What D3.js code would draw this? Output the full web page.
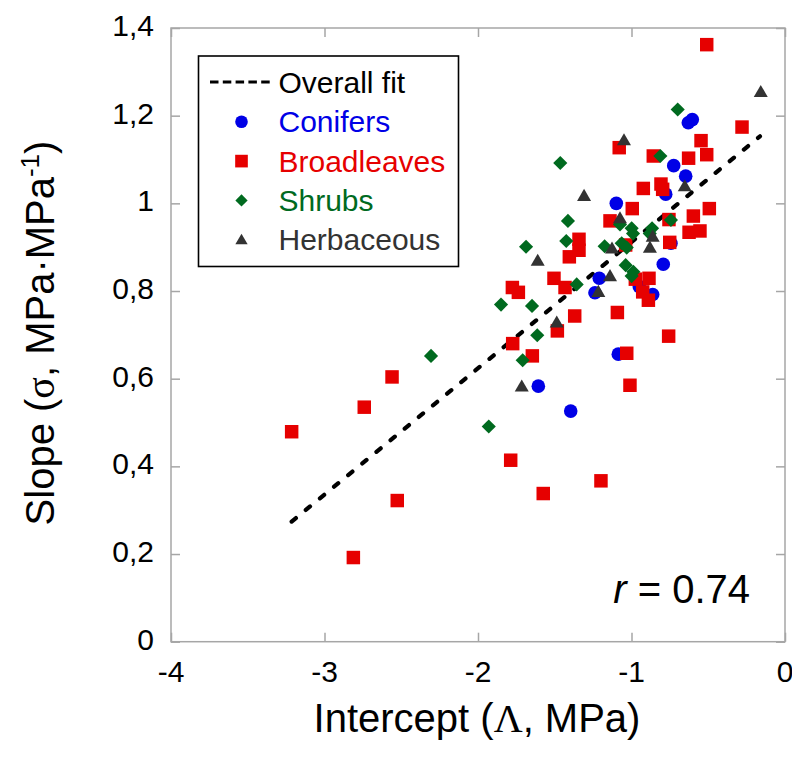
<!DOCTYPE html>
<html>
<head>
<meta charset="utf-8">
<script src="https://cdn.jsdelivr.net/npm/d3@7"></script>
<style>
  html, body { margin: 0; padding: 0; background: #fff; }
  svg { display: block; }
  text { font-family: "Liberation Sans", Arial, sans-serif; }
</style>
</head>
<body>
<svg id="chart" width="792" height="758"></svg>
<script>
// ---- data ----
const coniferX = [-0.63, -0.604, -0.725, -0.647, -0.777, -1.099, -0.743, -0.793, -1.21, -0.949, -0.862, -1.238, -1.086, -1.607, -1.396];
const coniferY = [1.184, 1.191, 1.086, 1.062, 1.021, 1.0, 0.909, 0.861, 0.829, 0.81, 0.792, 0.796, 0.656, 0.583, 0.526];

const broadX = [-0.51, -0.28, -1.08, -0.547, -0.51, -0.858, -0.628, -0.923, -0.808, -0.797, -0.995, -0.493, -1.14, -0.597, -0.756, -0.625, -0.554, -0.751, -1.342, -1.342, -1.405, -1.038, -0.975, -0.886, -1.505, -1.433, -0.927, -0.89, -1.776, -1.737, -1.37, -1.092, -1.483, -0.758, -1.774, -1.646, -1.031, -1.01, -3.214, -2.741, -2.56, -2.526, -2.812, -1.787, -1.199, -1.575];
const broadY = [1.362, 1.174, 1.127, 1.143, 1.111, 1.108, 1.103, 1.034, 1.044, 1.032, 0.988, 0.988, 0.96, 0.971, 0.963, 0.934, 0.937, 0.911, 0.918, 0.893, 0.878, 0.905, 0.827, 0.829, 0.829, 0.808, 0.798, 0.779, 0.808, 0.797, 0.743, 0.751, 0.709, 0.697, 0.68, 0.652, 0.658, 0.585, 0.479, 0.535, 0.604, 0.322, 0.192, 0.414, 0.367, 0.338];

const shrubX = [-0.699, -0.812, -1.464, -1.414, -0.743, -1.075, -0.999, -0.99, -0.866, -0.881, -1.425, -1.687, -1.175, -1.064, -1.031, -1.038, -0.988, -0.999, -1.357, -1.85, -1.648, -1.614, -1.709, -2.306, -1.93];
const shrubY = [1.214, 1.108, 1.092, 0.96, 0.962, 0.952, 0.943, 0.931, 0.943, 0.931, 0.914, 0.901, 0.902, 0.909, 0.899, 0.859, 0.844, 0.834, 0.815, 0.769, 0.766, 0.699, 0.642, 0.652, 0.491];

const herbX = [-0.158, -1.049, -0.653, -1.309, -1.075, -0.862, -0.88, -1.611, -1.127, -1.14, -1.216, -1.487, -1.715];
const herbY = [1.254, 1.144, 1.039, 1.017, 0.966, 0.924, 0.899, 0.869, 0.897, 0.834, 0.798, 0.728, 0.582];

const fitX = [-3.214, -0.163];
const fitY = [0.274, 1.153];

const xTicks = [-4, -3, -2, -1, 0];
const xTickLabels = ["-4", "-3", "-2", "-1", "0"];
const yTicks = [0, 0.2, 0.4, 0.6, 0.8, 1.0, 1.2, 1.4];
const yTickLabels = ["0", "0,2", "0,4", "0,6", "0,8", "1", "1,2", "1,4"];

const legendLabels = ["Overall fit", "Conifers", "Broadleaves", "Shrubs", "Herbaceous"];
const rText = "0.74";

// ---- layout ----
const L = 171, R = 785, T = 28, B = 641.7;
const svg = d3.select("#chart");
const x = d3.scaleLinear().domain([-4, 0]).range([L, R]);
const y = d3.scaleLinear().domain([0, 1.4]).range([B, T]);

const frameCol = "#a6a6a6";
const tickLen = 9;

// Frame
svg.append("rect").attr("x", L).attr("y", T).attr("width", R - L).attr("height", B - T)
  .attr("fill", "none").attr("stroke", frameCol).attr("stroke-width", 1.5);

// Axes with inward ticks (bottom/top/left/right)
const gx = svg.append("g").attr("transform", `translate(0,${B})`)
  .call(d3.axisBottom(x).tickValues(xTicks).tickSize(-tickLen).tickFormat(""));
const gxt = svg.append("g").attr("transform", `translate(0,${T})`)
  .call(d3.axisTop(x).tickValues(xTicks).tickSize(-tickLen).tickFormat(""));
const gy = svg.append("g").attr("transform", `translate(${L},0)`)
  .call(d3.axisLeft(y).tickValues(yTicks).tickSize(-tickLen).tickFormat(""));
const gyr = svg.append("g").attr("transform", `translate(${R},0)`)
  .call(d3.axisRight(y).tickValues(yTicks).tickSize(-tickLen).tickFormat(""));
[gx, gxt, gy, gyr].forEach(g => {
  g.select(".domain").remove();
  g.selectAll(".tick line").attr("stroke", frameCol).attr("stroke-width", 1.5);
});

// Tick labels
svg.append("g").selectAll("text").data(xTicks).join("text")
  .attr("x", d => x(d)).attr("y", 681.5)
  .attr("text-anchor", "middle").attr("font-size", 30).attr("fill", "#000")
  .text((d, i) => xTickLabels[i]);
svg.append("g").selectAll("text").data(yTicks).join("text")
  .attr("x", 154).attr("y", d => y(d) + 8)
  .attr("text-anchor", "end").attr("font-size", 30).attr("fill", "#000")
  .text((d, i) => yTickLabels[i]);

// Axis titles
const xt = svg.append("text").attr("x", (L + R) / 2 - 1).attr("y", 731.5)
  .attr("text-anchor", "middle").attr("font-size", 40).attr("fill", "#000");
xt.append("tspan").text("Intercept (");
xt.append("tspan").attr("font-family", "Liberation Serif, Times New Roman, serif").text("\u039B");
xt.append("tspan").text(", MPa)");

const yt = svg.append("text").attr("transform", "translate(54,333) rotate(-90)")
  .attr("text-anchor", "middle").attr("font-size", 40).attr("fill", "#000");
yt.append("tspan").text("Slope (");
yt.append("tspan").attr("font-family", "Liberation Serif, Times New Roman, serif").text("\u03C3");
yt.append("tspan").text(", MPa\u00B7MPa");
yt.append("tspan").attr("font-size", 26).attr("dy", -15).text("-1");
yt.append("tspan").attr("dy", 15).text(")");

// Fit line
svg.append("line")
  .attr("x1", x(fitX[0])).attr("y1", y(fitY[0]))
  .attr("x2", x(fitX[1])).attr("y2", y(fitY[1]))
  .attr("stroke", "#000").attr("stroke-width", 4.2)
  .attr("stroke-linecap", "round").attr("stroke-dasharray", "5.5 12.8");

// Markers
const blue = "#0000e6", red = "#e60000", green = "#006a1f", gray = "#333333";
const zip = (xs, ys) => xs.map((v, i) => [v, ys[i]]);

svg.append("g").selectAll("circle").data(zip(coniferX, coniferY)).join("circle")
  .attr("cx", d => x(d[0])).attr("cy", d => y(d[1])).attr("r", 6.8).attr("fill", blue);

const sq = d3.symbol().type(d3.symbolSquare).size(182);
svg.append("g").selectAll("path").data(zip(broadX, broadY)).join("path")
  .attr("d", sq).attr("transform", d => `translate(${x(d[0])},${y(d[1])})`).attr("fill", red);

const dm = d3.symbol().type(d3.symbolSquare).size(100);
svg.append("g").selectAll("path").data(zip(shrubX, shrubY)).join("path")
  .attr("d", dm).attr("transform", d => `translate(${x(d[0])},${y(d[1])}) rotate(45)`).attr("fill", green);

const tr = d3.symbol().type(d3.symbolTriangle).size(85);
svg.append("g").selectAll("path").data(zip(herbX, herbY)).join("path")
  .attr("d", tr).attr("transform", d => `translate(${x(d[0])},${y(d[1]) + 1})`).attr("fill", gray);

// r annotation
const rt = svg.append("text").attr("x", 750).attr("y", 602.5).attr("text-anchor", "end")
  .attr("font-size", 40).attr("fill", "#000");
rt.append("tspan").attr("font-style", "italic").text("r");
rt.append("tspan").text(" = " + rText);

// Legend
const lg = svg.append("g");
lg.append("rect").attr("x", 198.5).attr("y", 56).attr("width", 260).attr("height", 210.5)
  .attr("fill", "#fff").attr("stroke", "#000").attr("stroke-width", 1.6);
const base0 = 93, step = 39.3, tx = 278.5, sx = 241.5;
const legColors = ["#000", blue, red, green, gray];
lg.append("line").attr("x1", 210).attr("x2", 272).attr("y1", 82).attr("y2", 82)
  .attr("stroke", "#000").attr("stroke-width", 3).attr("stroke-dasharray", "8.5 4.3");
lg.selectAll("text.lab").data(legendLabels).join("text").attr("class", "lab")
  .attr("x", tx).attr("y", (d, i) => base0 + i * step)
  .attr("font-size", 30).attr("fill", (d, i) => legColors[i]).text(d => d);
lg.append("circle").attr("cx", sx).attr("cy", base0 + step - 10.5).attr("r", 6.3).attr("fill", blue);
lg.append("path").attr("d", d3.symbol().type(d3.symbolSquare).size(160))
  .attr("transform", `translate(${sx},${base0 + 2 * step - 10.5})`).attr("fill", red);
lg.append("path").attr("d", d3.symbol().type(d3.symbolSquare).size(75))
  .attr("transform", `translate(${sx},${base0 + 3 * step - 10.5}) rotate(45)`).attr("fill", green);
lg.append("path").attr("d", d3.symbol().type(d3.symbolTriangle).size(65))
  .attr("transform", `translate(${sx},${base0 + 4 * step - 9.5})`).attr("fill", gray);
</script>
</body>
</html>
